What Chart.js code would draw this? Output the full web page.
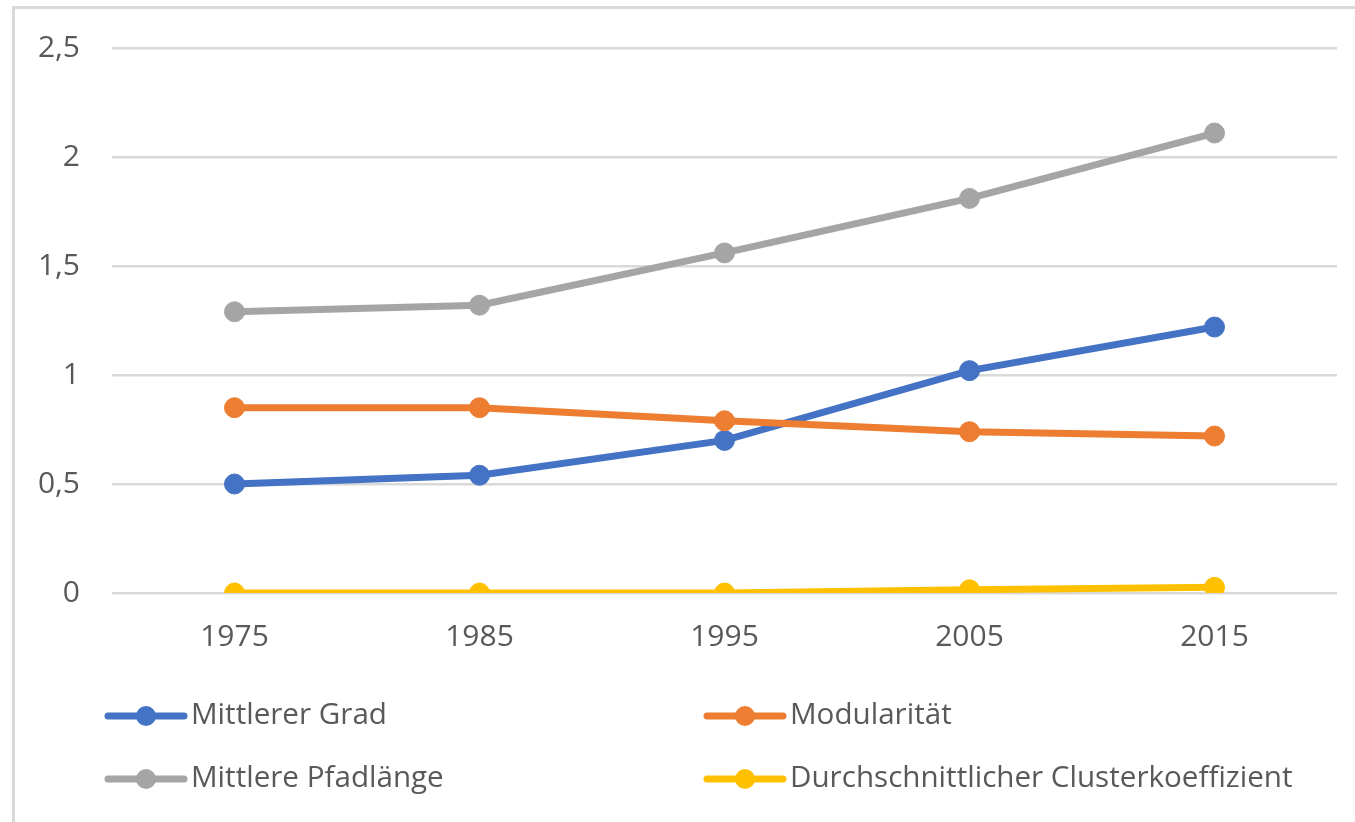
<!DOCTYPE html>
<html>
<head>
<meta charset="utf-8">
<script src="https://cdn.jsdelivr.net/npm/chart.js@4.4.0/dist/chart.umd.min.js"></script>
<style>
  html, body { margin: 0; padding: 0; background: #fff; }
  #wrap {
    position: absolute; left: 12px; top: 6px;
    width: 1340px; height: 813px;
    border-top: 3px solid #d9d9d9; border-left: 3px solid #d9d9d9;
  }
  canvas { display: block; }
</style>
</head>
<body>
<div id="wrap"><canvas id="chart" width="1340" height="813"></canvas></div>
<script>
// Jahre und Werte
const jahre = ['1975', '1985', '1995', '2005', '2015'];
const mittlererGrad = [0.50, 0.54, 0.70, 1.02, 1.22];
const modularitaet = [0.85, 0.85, 0.79, 0.74, 0.72];
const pfadlaenge = [1.29, 1.32, 1.56, 1.81, 2.11];
const clusterkoeff = [0, 0, 0, 0.015, 0.026];
const yTickLabels = ['0', '0,5', '1', '1,5', '2', '2,5'];

const schrift = { family: '"Open Sans", sans-serif', size: 30 };
const textFarbe = '#595959';

// eigene Legende in zwei Spalten (wie Excel)
const legendePlugin = {
    id: 'legendeZweiSpalten',
    afterDraw: function(chart) {
        const ctx = chart.ctx;
        const spalten = [90, 689];
        const zeilen = [707, 770];
        ctx.save();
        chart.data.datasets.forEach(function(ds, i) {
            const x = spalten[i % 2];
            const y = zeilen[Math.floor(i / 2)];
            ctx.strokeStyle = ds.borderColor;
            ctx.lineWidth = 7;
            ctx.lineCap = 'round';
            ctx.beginPath();
            ctx.moveTo(x + 3, y);
            ctx.lineTo(x + 79, y);
            ctx.stroke();
            ctx.fillStyle = ds.borderColor;
            ctx.beginPath();
            ctx.arc(x + 41, y, 10, 0, Math.PI * 2);
            ctx.fill();
            ctx.fillStyle = textFarbe;
            ctx.font = '29.6px ' + schrift.family;
            ctx.textBaseline = 'middle';
            ctx.textAlign = 'left';
            ctx.fillText(ds.label, x + 86, y);
        });
        ctx.restore();
    }
};

function serie(label, daten, farbe, ordnung) {
    return {
        label: label,
        data: daten,
        borderColor: farbe,
        backgroundColor: farbe,
        pointBackgroundColor: farbe,
        pointBorderColor: farbe,
        borderWidth: 7,
        pointRadius: 10,
        pointBorderWidth: 1,
        tension: 0,
        fill: false,
        order: ordnung
    };
}

const ctx = document.getElementById('chart').getContext('2d');
const chart = new Chart(ctx, {
    type: 'line',
    data: {
        labels: jahre,
        datasets: [
            serie('Mittlerer Grad', mittlererGrad, '#4472C4', 4),
            serie('Modularität', modularitaet, '#ED7D31', 3),
            serie('Mittlere Pfadlänge', pfadlaenge, '#A5A5A5', 2),
            serie('Durchschnittlicher Clusterkoeffizient', clusterkoeff, '#FFC000', 1)
        ]
    },
    options: {
        responsive: false,
        animation: false,
        devicePixelRatio: 1,
        layout: { autoPadding: false, padding: { top: 39, right: 18, left: 0, bottom: 0 } },
        plugins: {
            legend: { display: false },
            tooltip: { enabled: false }
        },
        scales: {
            x: {
                offset: true,
                grid: { display: false, drawTicks: false },
                border: { display: false },
                ticks: { color: textFarbe, font: schrift, padding: 26, maxRotation: 0 },
                afterFit: function(scale) { scale.height = 229; }
            },
            y: {
                min: 0,
                max: 2.5,
                grid: { color: '#d9d9d9', lineWidth: 2.5, drawTicks: false },
                border: { display: false },
                ticks: {
                    stepSize: 0.5,
                    color: textFarbe,
                    font: schrift,
                    padding: 32,
                    callback: function(value, index) { return yTickLabels[index]; }
                },
                afterFit: function(scale) {
                    scale.width = 97;
                    scale.paddingTop = 0;
                    scale.paddingBottom = 0;
                }
            }
        }
    },
    plugins: [legendePlugin]
});
</script>
</body>
</html>
